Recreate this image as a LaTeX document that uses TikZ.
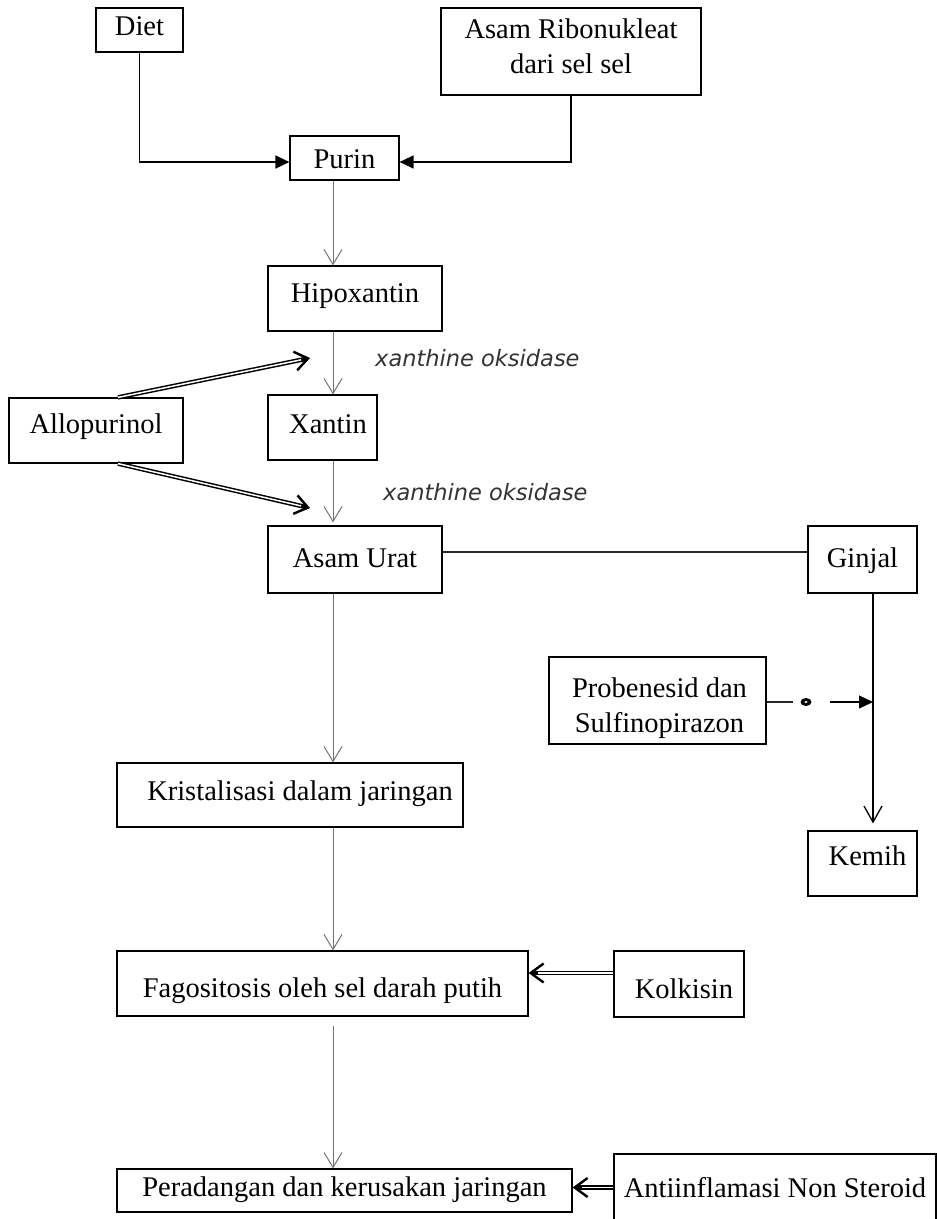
\documentclass[tikz,border=0pt]{standalone}
\usepackage{fontspec}
\setmainfont{Liberation Serif}
\newfontfamily\oxfont{DejaVu Sans}
\usetikzlibrary{arrows.meta,calc}
\begin{document}
\begin{tikzpicture}[x=1pt,y=-1pt,
  box/.style={draw=black, line width=1.2pt, rectangle, inner sep=0pt, text depth=0pt,
    font=\fontsize{28.5}{35}\selectfont},
  flow/.style={draw=black!55, line width=1pt, -{Straight Barb[length=15pt,width=18pt]}},
  blackflow/.style={draw=black, line width=1.3pt, -{Straight Barb[length=16pt,width=18pt]}},
  feed/.style={draw=black, line width=1.3pt, -{Triangle[length=14pt,width=13pt]}},
  plain/.style={draw=black!85, line width=1.3pt},
  inhib/.style={draw=black, line width=1.5pt, double=white, double distance=1.5pt, shorten >=3pt},
  inhibhead/.style={draw=black, line width=2.4pt, -{Straight Barb[length=13pt,width=19pt]}},
  enz/.style={font=\oxfont\itshape\fontsize{22.5}{26}\selectfont, text=black!80, inner sep=0pt, anchor=base west}
]
\useasboundingbox (0,0) rectangle (937,1219);

% boxes
\node[box, minimum width=87pt, minimum height=44pt, text height=10pt] (diet) at (139.5,30) {Diet};
\node[box, minimum width=260pt, minimum height=87pt, text height=43pt] (asamrib) at (571,51.5)
  {\begin{tabular}[b]{@{}c@{}}Asam Ribonukleat\\dari sel sel\end{tabular}};
\node[box, minimum width=109pt, minimum height=44pt, text height=20pt] (purin) at (344.5,158) {Purin};
\node[box, minimum width=174pt, minimum height=65pt, text height=7pt] (hipox) at (355,298.5) {Hipoxantin};
\node[box, minimum width=109pt, minimum height=65pt, text height=11pt] (xantin) at (322.5,427.5) {\hspace*{11pt}Xantin};
\node[box, minimum width=174pt, minimum height=65pt, text height=5pt] (allop) at (96,430.5) {Allopurinol};
\node[box, minimum width=174pt, minimum height=67pt, text height=15pt] (asamurat) at (355,559.5) {Asam Urat};
\node[box, minimum width=109pt, minimum height=67pt, text height=15pt] (ginjal) at (862.5,559.5) {Ginjal};
\node[box, minimum width=217pt, minimum height=87pt, text height=63pt] (probenesid) at (657.5,700.5)
  {\hspace*{4pt}\begin{tabular}[b]{@{}c@{}}Probenesid dan\\Sulfinopirazon\end{tabular}};
\node[box, minimum width=109pt, minimum height=65pt, text height=3pt] (kemih) at (862.5,863.5) {\hspace*{10pt}Kemih};
\node[box, minimum width=346pt, minimum height=64pt, text height=10pt] (krist) at (290,795) {\hspace*{20pt}Kristalisasi dalam jaringan};
\node[box, minimum width=411pt, minimum height=65pt, text height=27pt] (fago) at (322.5,983.5) {Fagositosis oleh sel darah putih};
\node[box, minimum width=130pt, minimum height=66pt, text height=28pt] (kolk) at (679,984) {\hspace*{10pt}Kolkisin};
\node[box, minimum width=455pt, minimum height=43pt, text height=11pt] (perad) at (344.5,1190.5) {Peradangan dan kerusakan jaringan};
\node[box, minimum width=322pt, minimum height=67pt, text height=19pt] (antiinf) at (775,1187.5) {Antiinflamasi Non Steroid};

% enzyme labels
\node[enz] (xo1) at (375,366) {xanthine oksidase};
\node[enz] (xo2) at (383,500) {xanthine oksidase};

% helper coordinates
\coordinate (fx) at (333,0);
\coordinate (gx) at (873,0);
\coordinate (pj) at (873,702);
\coordinate (pdash) at (793,702);
\coordinate (pdot) at (806,702);
\coordinate (parr) at (830,702);
\coordinate (aup) at (310,358);
\coordinate (adn) at (310,508);
\coordinate (a1) at ([xshift=22pt]allop.north);
\coordinate (a2) at ([xshift=22pt]allop.south);
\coordinate (k1) at (kolk.west |- 0,973);
\coordinate (k2) at (fago.east |- 0,973);
\coordinate (n1) at (antiinf.west);
\coordinate (n2) at (perad.east |- antiinf.west);

% sources to Purin
\draw[feed] (diet.south) |- (purin.west |- 0,162);
\draw[feed] (asamrib.south) |- (purin.east |- 0,162);

% main flow
\draw[flow] (purin.south -| fx) -- (hipox.north -| fx);
\draw[flow] (hipox.south -| fx) -- (xantin.north -| fx);
\draw[flow, shorten >=3pt] (xantin.south -| fx) -- (asamurat.north -| fx);
\draw[flow] (asamurat.south -| fx) -- (krist.north -| fx);
\draw[flow] (krist.south -| fx) -- (fago.north -| fx);
\draw[flow, shorten <=9pt] (fago.south -| fx) -- (perad.north -| fx);

% kidney branch
\draw[plain] (asamurat.east |- 0,552) -- (ginjal.west |- 0,552);
\draw[blackflow, shorten >=7pt] (ginjal.south -| gx) -- (kemih.north -| gx);
\draw[plain] (probenesid.east |- pj) -- (pdash);
\fill[black] (pdot) ellipse (5.5 and 4);
\fill[white] (pdot) ellipse (1.8 and 1);
\draw[feed] (parr) -- (pj);

% inhibitors (double shafts with bold barb heads)
\draw[inhib] (a1) -- (aup);
\draw[inhibhead] ($(aup)!9pt!(a1)$) -- (aup);
\draw[inhib] (a2) -- (adn);
\draw[inhibhead] ($(adn)!9pt!(a2)$) -- (adn);
\draw[inhib] (k1) -- (k2);
\draw[inhibhead] ($(k2)!9pt!(k1)$) -- (k2);
\draw[inhib] (n1) -- (n2);
\draw[inhibhead] ($(n2)!9pt!(n1)$) -- (n2);
\end{tikzpicture}
\end{document}
